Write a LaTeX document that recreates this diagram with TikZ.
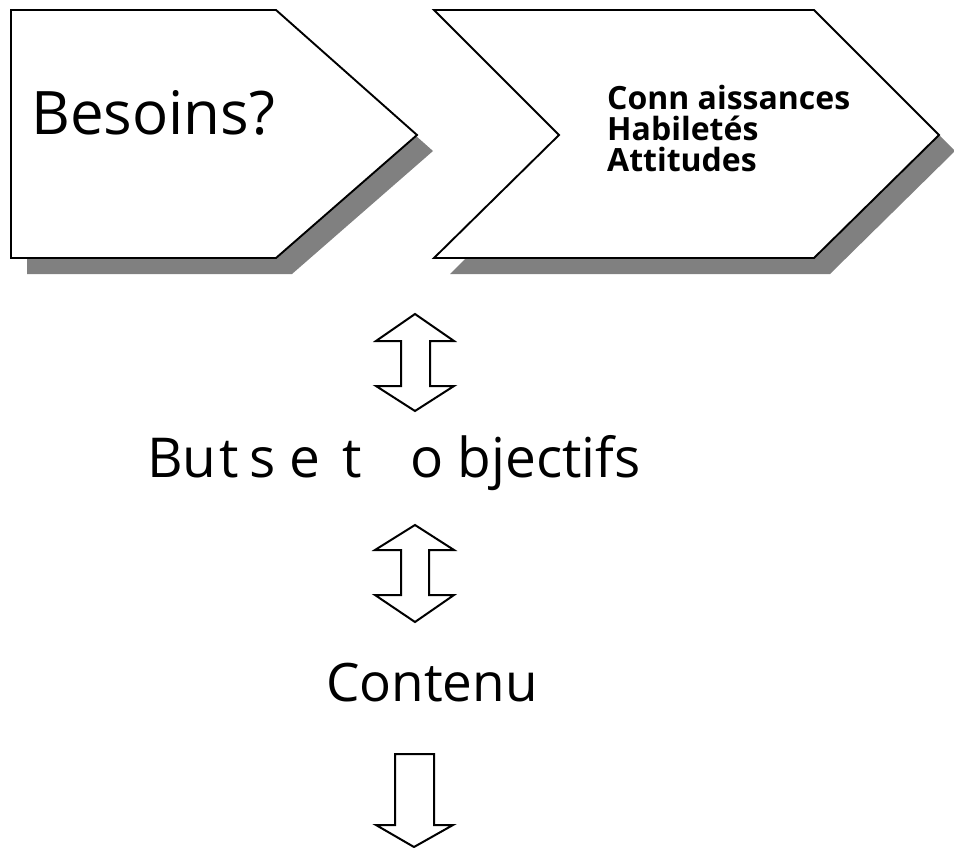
\documentclass[tikz,border=0pt]{standalone}
\usepackage{fontspec}
\setmainfont{Open Sans}

\begin{document}
\begin{tikzpicture}[x=1pt, y=-1pt,
        outline/.style={draw=black, line width=1.9pt, fill=white, line join=miter},
        shade/.style={fill=black!50, draw=none},
        blockarrow/.style={draw=black, line width=2pt, fill=white, line join=miter}]
        \useasboundingbox (0,0) rectangle (954,848);

        % chevrons with drop shadow
        \path [shade] (27,26) -- (292,26) -- (433,151) -- (292,274) -- (27,274) -- cycle;
        \path [shade] (450,26) -- (830,26) -- (955,151) -- (830,274) -- (450,274) -- (575,151) -- cycle;
        \draw [outline] (11,10) -- (276,10) -- (417,135) -- (276,258) -- (11,258) -- cycle;
        \draw [outline] (434,10) -- (814,10) -- (939,135) -- (814,258) -- (434,258) -- (559,135) -- cycle;

        \node (besoins) [anchor=base west, inner sep=0, font=\fontsize{60}{60}\selectfont] at (31,135) {Besoins?};
        \node (savoirs) [anchor=north west, inner sep=0, align=left,
            font=\fontsize{32}{31}\selectfont\bfseries] at (607,85) {Conn aissances\\Habiletés\\Attitudes};

        % double arrow
        \draw [blockarrow] (415,314) -- (454,341) -- (430,341) -- (430,386) -- (454,386)
            -- (415,411) -- (376,386) -- (401,386) -- (401,341) -- (376,341) -- cycle;

        \node (buts) [anchor=base west, inner sep=0, font=\fontsize{55}{55}\selectfont] at (147,477)
            {Bu\kern3pt t\kern10pt s e\kern8pt\ t \hspace{34pt}o bjectifs};

        % double arrow
        \draw [blockarrow] (415,525) -- (454,550) -- (429,550) -- (429,595) -- (454,595)
            -- (415,622) -- (375,595) -- (401,595) -- (401,550) -- (375,550) -- cycle;

        \node (contenu) [anchor=base west, inner sep=0, font=\fontsize{53}{53}\selectfont] at (326,701) {Contenu};

        % single arrow
        \draw [blockarrow] (395,754) -- (434,754) -- (434,825) -- (453,825) -- (414,847)
            -- (376,825) -- (395,825) -- cycle;
\end{tikzpicture}
\end{document}
